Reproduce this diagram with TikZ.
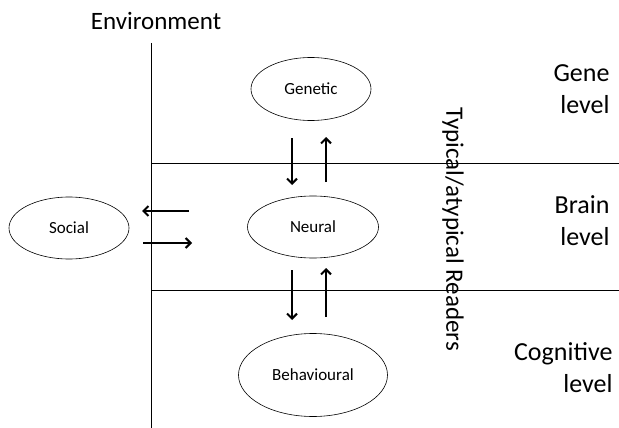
\documentclass[tikz,border=0pt]{standalone}
\usepackage{fontspec}
\setmainfont{Carlito}
\usetikzlibrary{shapes.geometric}
\usetikzlibrary{arrows.meta}
\tikzstyle{level} = [ellipse,draw=black,line width=0.6pt,inner sep=0pt,font=\fontsize{17}{17}\selectfont]
\tikzstyle{flow} = [line width=2pt,-{Straight Barb[length=5pt,width=10pt]}]
\tikzstyle{tag} = [align=right,anchor=east,font=\fontsize{26}{32}\selectfont]

\begin{document}
\begin{tikzpicture}[x=1pt,y=-1pt]
\useasboundingbox (0,0) rectangle (619,428);

% Define nodes
\node[level, minimum width=120pt, minimum height=63pt] (gen) at (311,89)  {Genetic};
\node[level, minimum width=131pt, minimum height=62pt] (neu) at (313,227) {Neural};
\node[level, minimum width=120pt, minimum height=62pt] (soc) at (69,228)  {Social};
\node[level, minimum width=149pt, minimum height=83pt] (beh) at (313,375) {Behavioural};

\node[font=\fontsize{25}{25}\selectfont] (env) at (156,21) {Environment};
\node[font=\fontsize{25}{25}\selectfont, rotate=-90] (read) at (453,229) {Typical/atypical Readers};

\node[tag] (gl) at (613,89)  {Gene\\level};
\node[tag] (bl) at (613,221) {Brain\\level};
\node[tag] (cl) at (616,368) {Cognitive\\level};

% Frame
\coordinate (vt) at (151,43);
\coordinate (vb) at (151,428);
\coordinate (ha) at (151,163);
\coordinate (hae) at (619,163);
\coordinate (hb) at (151,290);
\coordinate (hbe) at (619,290);
\draw[line width=0.7pt] (vt) -- (vb);
\draw[line width=0.7pt] (ha) -- (hae);
\draw[line width=0.7pt] (hb) -- (hbe);

% Edges
\coordinate (gd1) at (292,138); \coordinate (gd2) at (292,185);
\coordinate (gu1) at (326,182); \coordinate (gu2) at (326,137);
\coordinate (bd1) at (292,270); \coordinate (bd2) at (292,320);
\coordinate (bu1) at (326,317); \coordinate (bu2) at (326,268);
\coordinate (sl1) at (189,211); \coordinate (sl2) at (142,211);
\coordinate (sr1) at (143,243); \coordinate (sr2) at (192,243);
\draw[flow] (gd1) -- (gd2);
\draw[flow] (gu1) -- (gu2);
\draw[flow] (bd1) -- (bd2);
\draw[flow] (bu1) -- (bu2);
\draw[flow] (sl1) -- (sl2);
\draw[flow] (sr1) -- (sr2);
\end{tikzpicture}
\end{document}
